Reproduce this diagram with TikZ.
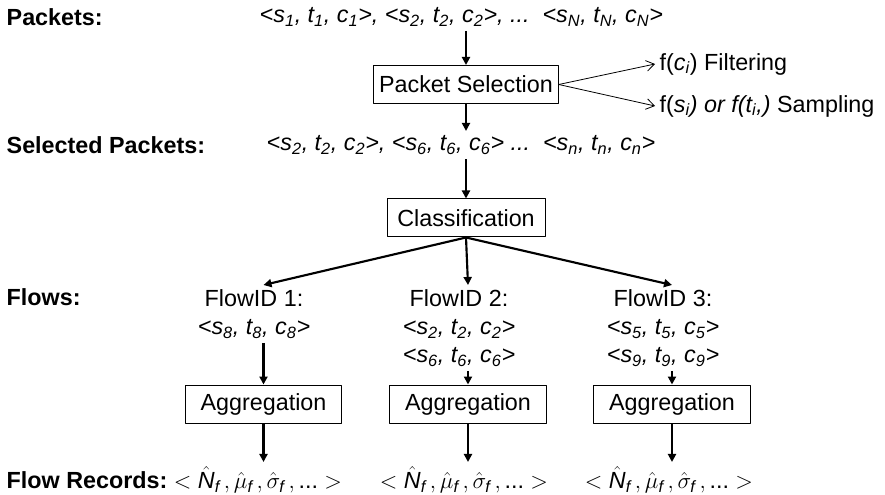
\documentclass[tikz,border=0pt]{standalone}
\usepackage{amsmath}
\usepackage{fontspec}
\setmainfont{Liberation Sans}
\usetikzlibrary{arrows.meta}

\newcommand{\tup}[1]{<s\textsubscript{#1}, t\textsubscript{#1}, c\textsubscript{#1}>}
\newcommand{\frec}{$<\hat{\textit{N}}_{\textit{f}}\,,\hat{\mu}_{\textit{f}}\,,\hat{\sigma}_{\textit{f}}\,,\text{...}>$}

\begin{document}
\begin{tikzpicture}[x=0.75pt, y=-0.75pt, line join=round,
	every node/.style={font=\fontsize{17.5}{21}\selectfont},
	lbl/.style={anchor=west, font=\fontsize{17.5}{21}\selectfont\bfseries},
	box/.style={draw, line width=0.75pt, minimum height=28.5pt, inner xsep=4pt},
	aggbox/.style={box, minimum width=117.5pt},
	recnode/.style={inner xsep=1pt},
	arr/.style={-{Triangle[length=6pt, width=6pt]}, line width=1.6pt},
	sidearr/.style={-{Straight Barb[length=6pt, width=8pt]}, line width=0.6pt}]
	\useasboundingbox (0,0) rectangle (885,495);
	
	% row labels on the left
	\node[lbl] (lpkts) at (2,17) {Packets:};
	\node[lbl] (lsel) at (2,145) {Selected Packets:};
	\node[lbl] (lflows) at (2,297) {Flows:};
	\node[lbl] (lrec) at (2,480) {Flow Records:};
	
	\node[anchor=west] (pkts) at (255,17) {\textit{\tup{1}, \tup{2}, ...\ \ \tup{N}}};
	\node[box, minimum width=138pt] (select) at (466,84.5) {Packet Selection};
	\node[anchor=west] (filt) at (655,64) {f(\textit{c\textsubscript{i}}) Filtering};
	\node[anchor=west] (samp) at (655,106) {f(\textit{s\textsubscript{i}) or f(t\textsubscript{i},)} Sampling};
	\node[anchor=west] (selpkts) at (262,145) {\textit{\tup{2}, \tup{6} ...\ \ \tup{n}}};
	\node[box, minimum width=118.5pt] (classify) at (466,218) {Classification};
	
	% flows
	\node[anchor=north, align=center] (flow1) at (254,285) {FlowID 1:\\\textit{\tup{8}}};
	\node[anchor=north, align=center] (flow2) at (459,285) {FlowID 2:\\\textit{\tup{2}}\\\textit{\tup{6}}};
	\node[anchor=north, align=center] (flow3) at (663,285) {FlowID 3:\\\textit{\tup{5}}\\\textit{\tup{9}}};
	
	\node[aggbox] (agg1) at (263.5,404) {Aggregation};
	\node[aggbox] (agg2) at (468,404) {Aggregation};
	\node[aggbox] (agg3) at (672,404) {Aggregation};
	
	\node[recnode] (rec1) at (258,480) {\frec};
	\node[recnode] (rec2) at (464,480) {\frec};
	\node[recnode] (rec3) at (669,480) {\frec};
	
	\draw[arr] (select.north |- pkts.south) -- (select);
	\draw[arr] (select) -- (select.south |- selpkts.north);
	\draw[sidearr] (select.east) -- (filt.west);
	\draw[sidearr] (select.east) -- (samp.west);
	\draw[arr] (classify.north |- selpkts.south) -- (classify);
	\draw[arr] (classify.south) -- (flow1.north -| agg1);
	\draw[arr] (classify.south) -- (flow2.north -| agg2);
	\draw[arr] (classify.south) -- (flow3.north -| agg3);
	\draw[arr] (flow1.south -| agg1) -- (agg1);
	\draw[arr] (flow2.south -| agg2) -- (agg2);
	\draw[arr] (flow3.south -| agg3) -- (agg3);
	\draw[arr] (agg1) -- (agg1 |- rec1.north);
	\draw[arr] (agg2) -- (agg2 |- rec2.north);
	\draw[arr] (agg3) -- (agg3 |- rec3.north);
\end{tikzpicture}
\end{document}
